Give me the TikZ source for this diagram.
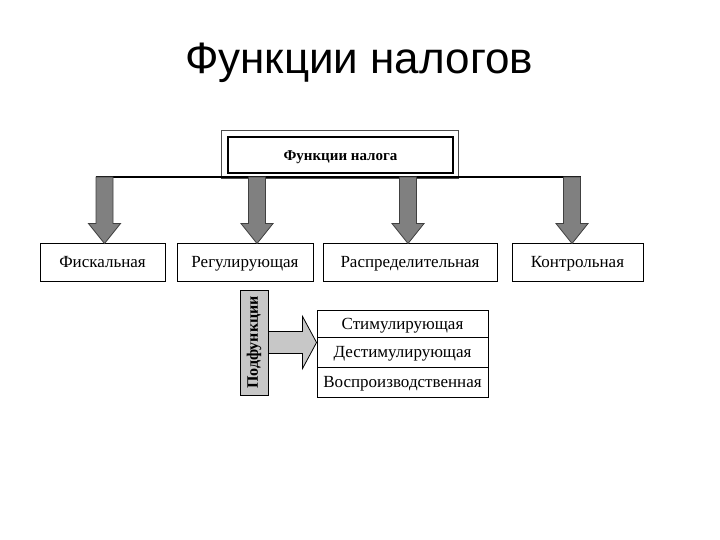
\documentclass[tikz,border=0pt]{standalone}
\usepackage{fontspec}
\setmainfont{Liberation Serif}
\newfontfamily\titlefont{Liberation Sans}
\usetikzlibrary{calc}
\tikzset{
  box/.style={draw=black, line width=0.9pt, fill=white, inner sep=0pt, text height=12pt, text depth=1pt,
    font=\fontsize{17}{19}\selectfont},
  subbox/.style={box, minimum width=171pt},
  darrow/.style={draw=black!75, line width=0.8pt, fill=black!50,
    to path={let \p1=(\tikztostart), \p2=(\tikztotarget) in
      (\x1-8.5pt,\y1) -- (\x1-8.5pt,\y2+19pt) -- (\x1-16pt,\y2+19pt) -- (\x1,\y2-1pt)
      -- (\x1+16pt,\y2+19pt) -- (\x1+8.5pt,\y2+19pt) -- (\x1+8.5pt,\y1) -- cycle}},
  rarrow/.style={draw=black, line width=0.8pt, fill=black!22,
    to path={let \p1=(\tikztostart), \p2=(\tikztotarget) in
      (\x1,\y1+11pt) -- (\x2-14pt,\y1+11pt) -- (\x2-14pt,\y1+26pt) -- (\x2,\y1)
      -- (\x2-14pt,\y1-26pt) -- (\x2-14pt,\y1-11pt) -- (\x1,\y1-11pt) -- cycle}},
  hline/.style={draw=black, line width=1.2pt}
}
\begin{document}
\begin{tikzpicture}[x=1pt,y=-1pt]
\useasboundingbox (0,0) rectangle (720,540);
\node[anchor=base, font=\titlefont\fontsize{44}{48}\selectfont] (title) at (359,74) {Функции налогов};

% main box
\node[draw=black, line width=1.4pt, minimum width=225pt, minimum height=36pt, inner sep=0pt,
      text height=10.5pt, text depth=0pt,
      font=\bfseries\fontsize{15}{17}\selectfont] (main) at (340.5,155) {Функции налога};
\draw[black!70, line width=0.7pt] ($(main.north west)+(-6,-6)$) rectangle ($(main.south east)+(5,5)$);

% connectors
\coordinate (c1) at (104.5,177);
\coordinate (c2) at (257,177);
\coordinate (c3) at (408,177);
\coordinate (c4) at (572,177);
\draw[hline] ($(c1)+(-8.5,0)$) -- ($(c4)+(8.5,0)$);

% function boxes
\node[box, minimum width=125pt, minimum height=38pt] (f1) at (102.5,262) {Фискальная};
\node[box, minimum width=136pt, minimum height=38pt] (f2) at (245,262) {Регулирующая};
\node[box, minimum width=174pt, minimum height=38pt] (f3) at (410,262) {Распределительная};
\node[box, minimum width=131pt, minimum height=38pt] (f4) at (577.5,262) {Контрольная};

\draw[darrow] (c1) to (c1 |- f1.north);
\draw[darrow] (c2) to (c2 |- f2.north);
\draw[darrow] (c3) to (c3 |- f3.north);
\draw[darrow] (c4) to (c4 |- f4.north);

% subfunctions
\node[subbox, minimum height=27pt] (s1) at (402.5,323.5) {Стимулирующая};
\node[subbox, minimum height=30pt] (s2) at (402.5,352) {Дестимулирующая};
\node[subbox, minimum height=30pt] (s3) at (402.5,382) {Воспроизводственная};

\node[draw=black, line width=0.9pt, fill=black!22, minimum width=28pt, minimum height=105pt, inner sep=0pt] (pod) at (254,342.5) {};
\node[rotate=90, font=\bfseries\fontsize{16}{18}\selectfont, inner sep=0pt] (podtext) at (pod.center) {Подфункции};

\draw[rarrow] (pod.east) to (pod.east -| s1.west);
\end{tikzpicture}
\end{document}
